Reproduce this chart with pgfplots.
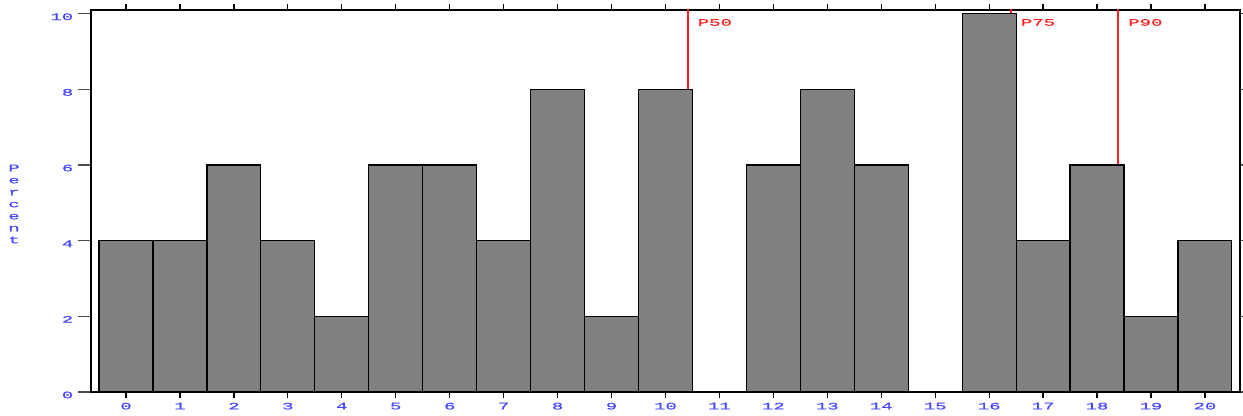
\documentclass[border=0pt]{standalone}
\usepackage{pgfplots}
\pgfplotsset{compat=1.18}
\usepackage{fontspec}
\newfontfamily\sasfont[FakeStretch=1.9,FakeBold=0.6]{Liberation Mono}
\definecolor{sasblue}{RGB}{70,70,255}
\definecolor{barfill}{RGB}{128,128,128}
\definecolor{sasred}{RGB}{255,30,30}
\newcommand{\sasf}{\sasfont\fontsize{10bp}{12bp}\selectfont}
\begin{document}
\begin{tikzpicture}
\path[use as bounding box] (0bp,0bp) rectangle (1243bp,416bp);
\begin{axis}[
  at={(91bp,24bp)}, anchor=south west,
  width=1149bp, height=382bp, scale only axis,
  xmin=-0.649, xmax=20.65, ymin=0, ymax=10.1,
  xtick={0,...,20}, ytick={0,2,...,10},
  tick align=outside,
  xtick style={black, line width=1.2bp, /pgfplots/major tick length=6bp},
  ytick style={black!70, line width=1.2bp, /pgfplots/major tick length=13bp},
  axis line style={black, line width=1.2bp},
  /pgf/number format/assume math mode=true,
  ticklabel style={font=\sasf, text=sasblue},
  xticklabel style={yshift=-3bp},
  yticklabel style={yshift=-3bp, xshift=-10bp},
  clip=true,
]
\addplot[draw=sasred, line width=2bp, forget plot] coordinates {(10.41,0) (10.41,10.2)};
\addplot[draw=sasred, line width=2bp, forget plot] coordinates {(16.40,0) (16.40,10.2)};
\addplot[draw=sasred, line width=2bp, forget plot] coordinates {(18.39,0) (18.39,10.2)};
\addplot[ybar, bar width=1, fill=barfill, draw=black, line width=1.2bp] coordinates {
(0,4) (1,4) (2,6) (3,4) (4,2) (5,6) (6,6) (7,4) (8,8) (9,2) (10,8)
(12,6) (13,8) (14,6) (16,10) (17,4) (18,6) (19,2) (20,4)};
\node[text=sasred, anchor=west, font=\sasf, inner sep=0pt] at (axis cs:10.41,9.77) [xshift=10bp] {P50};
\node[text=sasred, anchor=west, font=\sasf, inner sep=0pt] at (axis cs:16.40,9.77) [xshift=10bp] {P75};
\node[text=sasred, anchor=west, font=\sasf, inner sep=0pt] at (axis cs:18.39,9.77) [xshift=10bp] {P90};
\end{axis}
\node[text=sasblue, align=center, font=\sasf, inner sep=0pt] at (14bp,212bp) {P\\e\\r\\c\\e\\n\\t};
\end{tikzpicture}
\end{document}
